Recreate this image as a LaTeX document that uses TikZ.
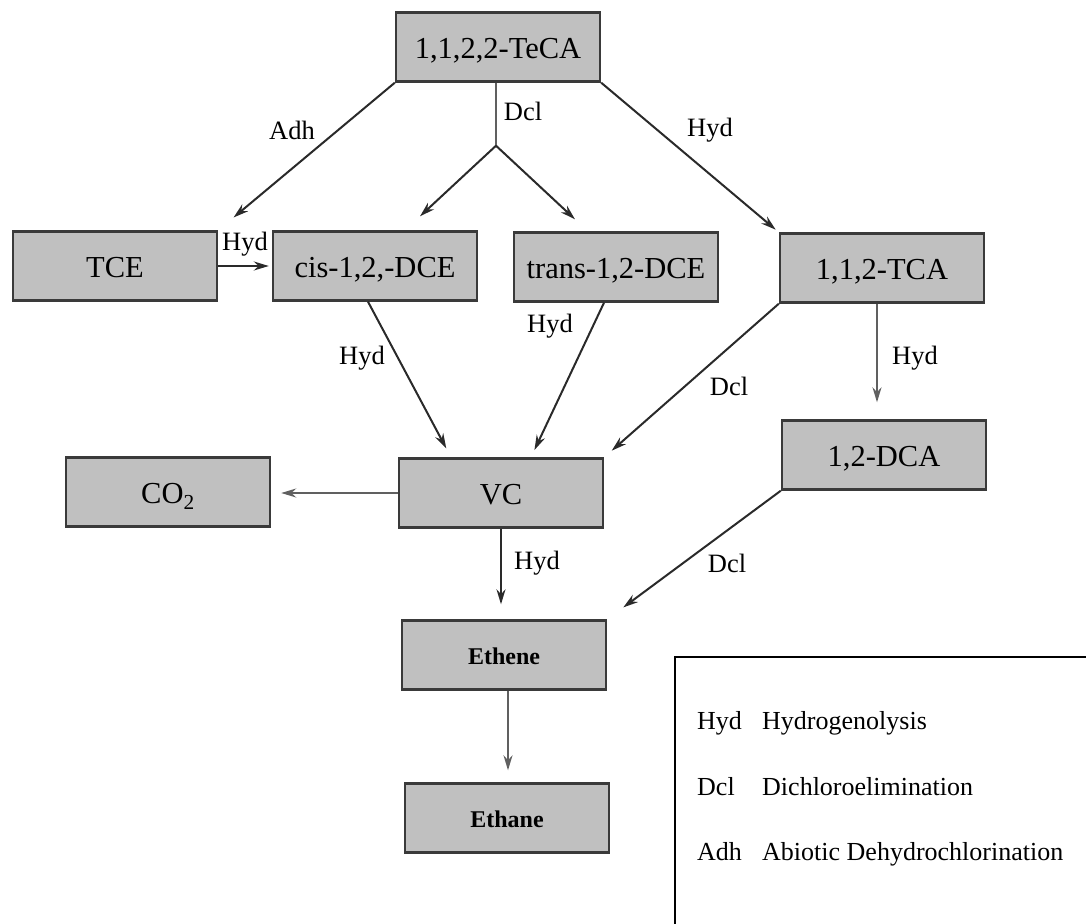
\documentclass[tikz,border=0pt]{standalone}
\usepackage{fontspec}
\setmainfont{Liberation Serif}
\usetikzlibrary{arrows.meta,calc}
\definecolor{boxfill}{HTML}{C0C0C0}
\definecolor{boxline}{HTML}{3A3A3A}
\definecolor{arrowcol}{HTML}{2A2A2A}
\definecolor{stemcol}{HTML}{606060}
\begin{document}
\begin{tikzpicture}[x=1pt,y=-1pt,
  box/.style={draw=boxline,line width=2.4pt,fill=boxfill,minimum width=204pt,minimum height=69pt,inner sep=0pt,text height=27pt,text depth=4pt,font=\fontsize{30.5}{36}\selectfont},
  smallbox/.style={box,text height=22pt,text depth=4pt,font=\fontsize{24}{28}\selectfont\bfseries},
  lab/.style={inner sep=0pt,font=\fontsize{26.5}{30}\selectfont},
  leg/.style={inner sep=0pt,anchor=base west,font=\fontsize{26}{30}\selectfont},
  arr/.style={draw=arrowcol,line width=2pt,-{Stealth[length=15pt,width=9pt]}},
  stemarr/.style={arr,draw=stemcol},
]
\useasboundingbox (0,0) rectangle (1086,923);
\clip (0,0) rectangle (1086,923);

% boxes
\node[box] (teca)  at (498,47)  {1,1,2,2-TeCA};
\node[box] (tce)   at (115,266) {TCE};
\node[box] (cis)   at (375,266) {cis-1,2,-DCE};
\node[box] (trans) at (616,267) {trans-1,2-DCE};
\node[box] (tca)   at (882,268) {1,1,2-TCA};
\node[box] (co2)   at (168,492) {CO\textsubscript{2}};
\node[box] (vc)    at (501,493) {VC};
\node[box] (dca)   at (884,455) {1,2-DCA};
\node[smallbox] (ethene) at (504,655) {Ethene};
\node[smallbox] (ethane) at (507,818) {Ethane};

% connectors
\draw[arr,shorten >=20pt] (teca.south west) -- (tce.north east);
\coordinate (split) at ($(teca.south)+(-2,63)$);
\draw[draw=stemcol,line width=2.4pt] ([xshift=-2]teca.south) -- (split);
\draw[arr] (split) -- ($(cis.north)+(45,-14)$);
\draw[arr] (split) -- ($(trans.north)+(-41,-12)$);
\draw[arr,shorten >=4pt] (teca.south east) -- (tca.north west);
\draw[arr,shorten >=3pt] (tce.east) -- (cis.west);
\draw[arr,shorten >=10pt] ([xshift=-7]cis.south) -- ([xshift=-50]vc.north);
\draw[arr,shorten >=8pt] ([xshift=-12]trans.south) -- ([xshift=30]vc.north);
\draw[arr,shorten >=10pt] (tca.south west) -- (vc.north east);
\draw[stemarr,shorten >=17pt] ([xshift=-5]tca.south) -- ([xshift=-5]tca.south |- dca.north);
\draw[stemarr,shorten >=10pt] (vc.west) -- (vc.west -| co2.east);
\draw[arr,shorten >=15pt] (vc.south) -- (vc.south |- ethene.north);
\draw[arr,shorten >=20pt] (dca.south west) -- (ethene.north east);
\draw[stemarr,shorten >=12pt] ([xshift=4]ethene.south) -- ([xshift=4]ethene.south |- ethane.north);

% labels
\node[lab] (lAdh)  at (292,130) {Adh};
\node[lab] (lDcl1) at (523,111) {Dcl};
\node[lab] (lHyd1) at (710,130) {Hyd};
\node[lab] (lHyd2) at (245,244) {Hyd};
\node[lab] (lHyd3) at (362,358) {Hyd};
\node[lab] (lHyd4) at (550,326) {Hyd};
\node[lab] (lDcl2) at (729,386) {Dcl};
\node[lab] (lHyd5) at (915,358) {Hyd};
\node[lab] (lHyd6) at (537,563) {Hyd};
\node[lab] (lDcl3) at (727,563) {Dcl};

% legend
\draw[line width=2.4pt,draw=black] (1100,657) -- (675,657) -- (675,940);
\node[leg] (k1) at (697,729) {Hyd};
\node[leg] (d1) at (762,729) {Hydrogenolysis};
\node[leg] (k2) at (697,795) {Dcl};
\node[leg] (d2) at (762,795) {Dichloroelimination};
\node[leg] (k3) at (697,860) {Adh};
\node[leg] (d3) at (762,860) {Abiotic Dehydrochlorination};
\end{tikzpicture}
\end{document}
